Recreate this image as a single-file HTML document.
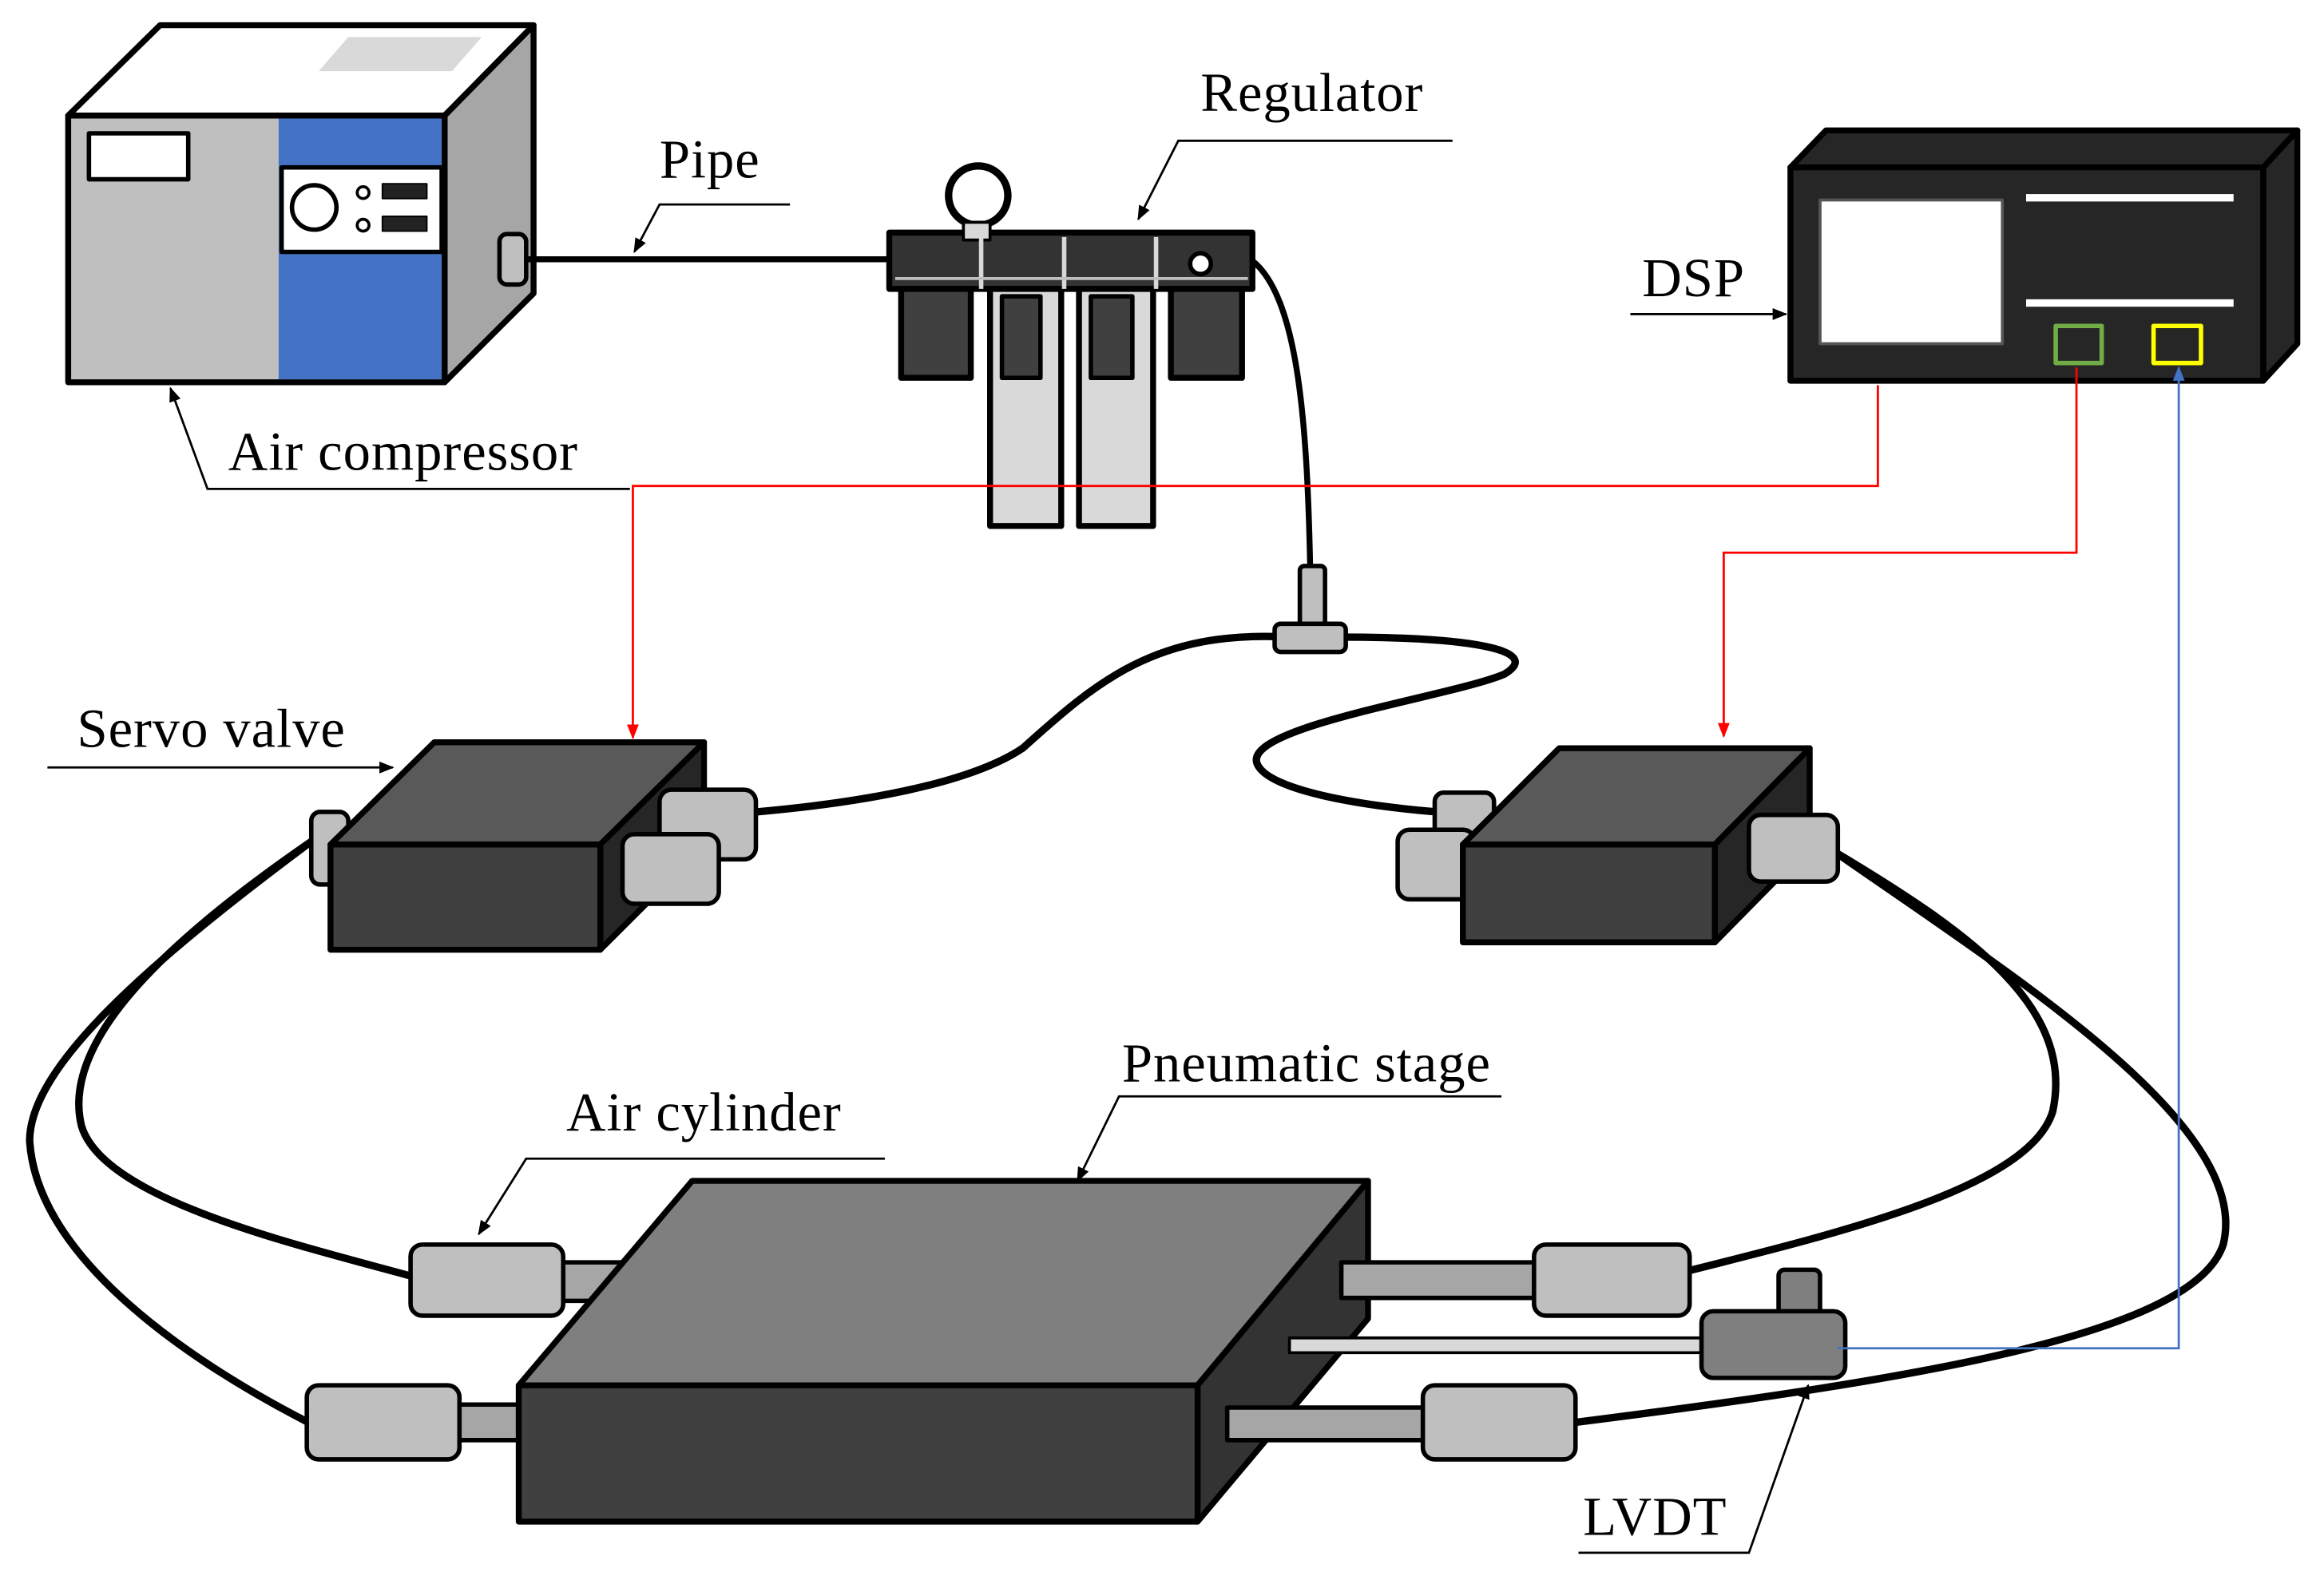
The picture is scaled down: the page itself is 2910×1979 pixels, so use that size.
<!DOCTYPE html>
<html><head><style>html,body{margin:0;padding:0;background:#fff}svg{display:block}</style></head>
<body>
<svg width="2910" height="1979" viewBox="0 0 1568 1066.4" preserveAspectRatio="none" xmlns="http://www.w3.org/2000/svg" font-family="Liberation Serif, serif">
<defs>
<marker id="ab" markerWidth="10" markerHeight="10" refX="9" refY="5" orient="auto" markerUnits="userSpaceOnUse"><path d="M0,1 L10,5 L0,9 z" fill="#000"/></marker>
<marker id="ar" markerWidth="10" markerHeight="10" refX="9" refY="5" orient="auto" markerUnits="userSpaceOnUse"><path d="M0,1 L10,5 L0,9 z" fill="#f00"/></marker>
<marker id="au" markerWidth="10" markerHeight="10" refX="9" refY="5" orient="auto" markerUnits="userSpaceOnUse"><path d="M0,1 L10,5 L0,9 z" fill="#4472c4"/></marker>
</defs>
<g stroke="#000" stroke-width="4" stroke-linejoin="round">
<!-- Air compressor -->
<polygon points="46,78 108,17 360,17 300,78" fill="#fff"/>
<polygon points="215,48 235,25 325,25 305,48" fill="#d9d9d9" stroke="none"/>
<polygon points="300,78 360,17 360,198 300,258" fill="#a6a6a6"/>
<rect x="46" y="78" width="254" height="180" fill="#bfbfbf"/>
<rect x="188" y="80" width="110" height="176" fill="#4472c4" stroke="none"/>
<rect x="60" y="90" width="67" height="31" fill="#fff" stroke-width="3"/>
<rect x="190" y="113" width="108" height="57" fill="#fff" stroke-width="3"/>
<circle cx="212" cy="140" r="15" fill="#fff" stroke-width="3"/>
<circle cx="245" cy="130" r="4" fill="#fff" stroke-width="2"/>
<circle cx="245" cy="152" r="4" fill="#fff" stroke-width="2"/>
<rect x="258" y="124" width="30" height="10" fill="#222" stroke-width="1"/>
<rect x="258" y="146" width="30" height="10" fill="#222" stroke-width="1"/>
<rect x="337" y="158" width="18" height="34" rx="5" fill="#bfbfbf" stroke-width="3"/>
<!-- pipe -->
<line x1="355" y1="175" x2="602" y2="175"/>
<!-- regulator -->
<rect x="600" y="157" width="245" height="38" fill="#333"/>
<rect x="608" y="195" width="47" height="60" fill="#404040"/>
<rect x="790" y="195" width="48" height="60" fill="#404040"/>
<rect x="668" y="195" width="48" height="160" fill="#d9d9d9"/>
<rect x="728" y="195" width="50" height="160" fill="#d9d9d9"/>
<rect x="676" y="200" width="26" height="55" fill="#404040" stroke-width="3"/>
<rect x="736" y="200" width="28" height="55" fill="#404040" stroke-width="3"/>
<circle cx="660" cy="132" r="20" fill="#fff" stroke-width="5"/>
<rect x="650" y="150" width="18" height="12" fill="#d9d9d9" stroke-width="2"/>
<circle cx="810" cy="178" r="7" fill="#fff" stroke-width="3"/>
<line x1="662" y1="160" x2="662" y2="195" stroke="#d9d9d9" stroke-width="3"/>
<line x1="718" y1="160" x2="718" y2="195" stroke="#d9d9d9" stroke-width="3"/>
<line x1="780" y1="160" x2="780" y2="195" stroke="#d9d9d9" stroke-width="3"/>
<line x1="604" y1="188" x2="842" y2="188" stroke="#bfbfbf" stroke-width="2"/>
<path d="M845,176 C875,200 882,280 884,385" fill="none" stroke-width="4"/>
<rect x="877" y="382" width="17" height="42" rx="3" fill="#bfbfbf" stroke-width="3"/>
<!-- DSP -->
<polygon points="1208,113 1232,88 1550,88 1527,113" fill="#262626"/>
<polygon points="1527,113 1550,88 1550,232 1527,257" fill="#262626"/>
<rect x="1208" y="113" width="319" height="144" fill="#262626"/>
<rect x="1228" y="135" width="123" height="97" fill="#fff" stroke="#555" stroke-width="2"/>
<rect x="1367" y="131" width="140" height="5" fill="#fff" stroke="none"/>
<rect x="1367" y="202" width="140" height="5" fill="#fff" stroke="none"/>
<rect x="1387" y="220" width="31" height="25" fill="none" stroke="#70ad47" stroke-width="3"/>
<rect x="1453" y="220" width="32" height="25" fill="none" stroke="#ffff00" stroke-width="3"/>
<!-- hoses -->
<g fill="none" stroke-width="5">
<path d="M510,548 C600,540 660,525 690,505 C740,460 780,425 870,430"/>
<path d="M905,430 C1000,430 1040,440 1015,455 C980,470 840,490 848,515 C855,535 930,545 970,548"/>
<path d="M210,568 C120,630 40,700 55,760 C70,810 200,840 280,862"/>
<path d="M210,568 C100,650 20,720 20,770 C25,850 130,920 208,960"/>
<path d="M1238,575 C1330,630 1400,680 1385,750 C1370,800 1250,830 1138,858"/>
<path d="M1238,575 C1360,660 1520,760 1500,840 C1480,900 1300,930 1063,960"/>
</g>
<rect x="860" y="421" width="48" height="19" rx="4" fill="#bfbfbf" stroke-width="3"/>
<!-- servo valve left -->
<rect x="210" y="548" width="25" height="49" rx="6" fill="#bfbfbf" stroke-width="3"/>
<polygon points="223,570 293,501 475,501 405,570" fill="#595959"/>
<polygon points="405,570 475,501 475,571 405,641" fill="#262626"/>
<rect x="223" y="570" width="182" height="71" fill="#404040"/>
<rect x="445" y="533" width="65" height="47" rx="8" fill="#bfbfbf" stroke-width="3"/>
<rect x="420" y="563" width="65" height="47" rx="8" fill="#bfbfbf" stroke-width="3"/>
<!-- servo valve right -->
<rect x="968" y="535" width="40" height="30" rx="6" fill="#bfbfbf" stroke-width="3"/>
<rect x="943" y="560" width="52" height="47" rx="8" fill="#bfbfbf" stroke-width="3"/>
<polygon points="987,570 1052,505 1221,505 1157,570" fill="#595959"/>
<polygon points="1157,570 1221,505 1221,571 1157,636" fill="#262626"/>
<rect x="987" y="570" width="170" height="66" fill="#404040"/>
<rect x="1180" y="550" width="60" height="45" rx="8" fill="#bfbfbf" stroke-width="3"/>
<!-- cylinders -->
<rect x="375" y="852" width="45" height="26" fill="#a6a6a6" stroke-width="3"/>
<rect x="277" y="840" width="103" height="48" rx="8" fill="#bfbfbf" stroke-width="3"/>
<rect x="305" y="948" width="50" height="24" fill="#a6a6a6" stroke-width="3"/>
<rect x="207" y="935" width="103" height="50" rx="8" fill="#bfbfbf" stroke-width="3"/>
<!-- stage -->
<polygon points="350,935 467,797 923,797 808,935" fill="#7f7f7f"/>
<polygon points="808,935 923,797 923,890 808,1027" fill="#333"/>
<rect x="350" y="935" width="458" height="92" fill="#404040"/>
<rect x="905" y="852" width="135" height="24" fill="#a6a6a6" stroke-width="3"/>
<rect x="1035" y="840" width="105" height="48" rx="8" fill="#bfbfbf" stroke-width="3"/>
<rect x="828" y="950" width="135" height="22" fill="#a6a6a6" stroke-width="3"/>
<rect x="960" y="935" width="103" height="50" rx="8" fill="#bfbfbf" stroke-width="3"/>
<rect x="870" y="903" width="280" height="10" fill="#d9d9d9" stroke-width="2"/>
<rect x="1200" y="857" width="28" height="30" rx="4" fill="#7f7f7f" stroke-width="3"/>
<rect x="1148" y="885" width="97" height="45" rx="8" fill="#7f7f7f" stroke-width="3"/>
</g>
<!-- signal lines -->
<g fill="none" stroke-width="1.5">
<polyline points="1267,260 1267,328 427,328 427,498" stroke="#f00" marker-end="url(#ar)"/>
<polyline points="1401,248 1401,373 1163,373 1163,497" stroke="#f00" marker-end="url(#ar)"/>
<polyline points="1240,910 1470,910 1470,248" stroke="#4472c4" marker-end="url(#au)"/>
</g>
<!-- leaders -->
<g fill="none" stroke="#000" stroke-width="1.5">
<polyline points="533,138 445,138 428,170" marker-end="url(#ab)"/>
<polyline points="980,95 795,95 768,148" marker-end="url(#ab)"/>
<polyline points="1100,212 1205,212" marker-end="url(#ab)"/>
<polyline points="425,330 140,330 115,262" marker-end="url(#ab)"/>
<polyline points="32,518 265,518" marker-end="url(#ab)"/>
<polyline points="1013,740 755,740 727,797" marker-end="url(#ab)"/>
<polyline points="597,782 355,782 323,833" marker-end="url(#ab)"/>
<polyline points="1065,1048 1180,1048 1220,935" marker-end="url(#ab)"/>
</g>
<g font-size="37" fill="#000" letter-spacing="0.5">
<text x="445" y="120">Pipe</text>
<text x="810" y="75">Regulator</text>
<text x="1108" y="200">DSP</text>
<text x="154" y="317">Air compressor</text>
<text x="52" y="504">Servo valve</text>
<text x="757" y="730">Pneumatic stage</text>
<text x="382" y="763">Air cylinder</text>
<text x="1068" y="1036">LVDT</text>
</g>
</svg>
</body></html>
